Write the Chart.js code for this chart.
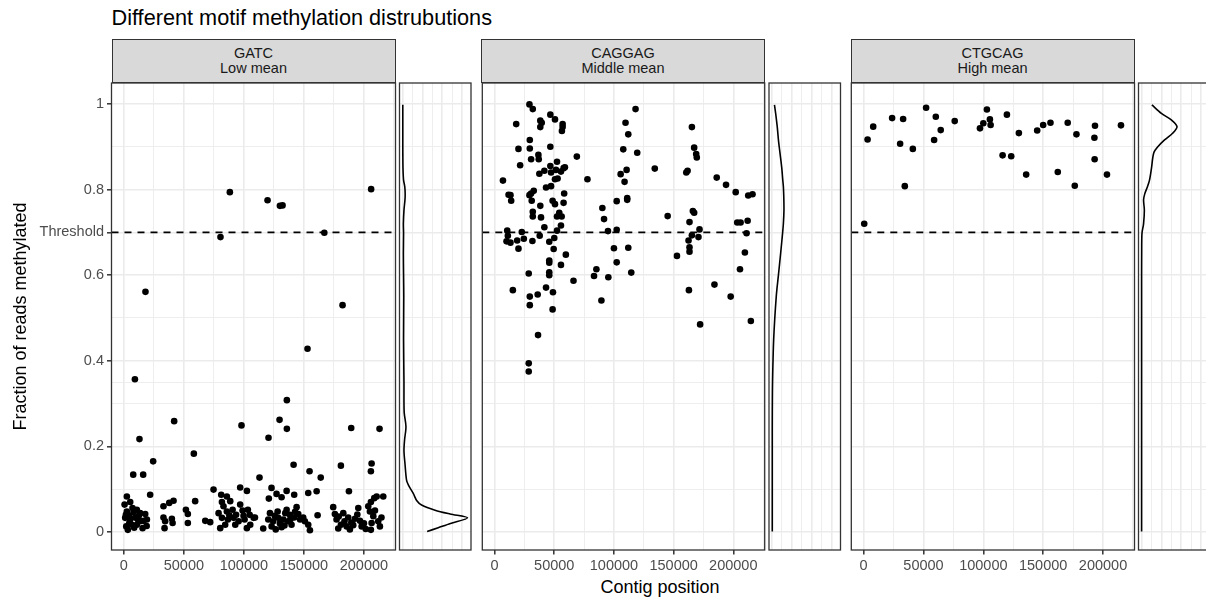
<!DOCTYPE html>
<html>
<head>
<meta charset="utf-8">
<script src="https://cdn.jsdelivr.net/npm/chart.js@4.4.1/dist/chart.umd.min.js"></script>
<style>
  html, body { margin: 0; padding: 0; background: #fff; overflow: hidden; }
  #fig { position: relative; width: 1206px; height: 600px; overflow: hidden;
         font-family: 'Liberation Sans', Arial, sans-serif; background: #fff; }
  #fig canvas { position: absolute; }
  .title { position: absolute; left: 111.5px; top: 6.6px; font-size: 21.7px; line-height: 21.7px;
           color: #000; white-space: nowrap; }
  .strip { position: absolute; top: 39px; height: 44.3px; box-sizing: border-box;
           border: 1px solid #333; background: #D9D9D9; display: flex; flex-direction: column;
           justify-content: center; align-items: center; font-size: 14.5px; line-height: 15px;
           color: #1A1A1A; white-space: nowrap; }
  .xtitle { position: absolute; left: 460px; width: 400px; top: 577.8px; text-align: center;
            font-size: 18px; line-height: 18px; color: #000; }
</style>
</head>
<body>
<div id="fig">
  <div class="title">Different motif methylation distrubutions</div>
  <div class="xtitle">Contig position</div>
</div>
<script>
// ---------------- data ----------------
const motifs = ['GATC', 'CAGGAG', 'CTGCAG'];
const meanLabels = ['Low mean', 'Middle mean', 'High mean'];
const threshold = 0.7;

// GATC: contig position (bp) and fraction of reads methylated
const gatcPos = [18000, 88300, 80500, 119700, 130000, 132200, 167000, 206000, 182200,
  9200, 153000, 135800, 13000, 41900, 98000, 129700, 120500, 135800, 189400, 213000, 58300,
  24400, 7800, 16100, 141400, 154700, 164000, 113000, 180800, 206400, 205800,
  2500, 5300, 600, 7200, 10800, 2500, 13600, 17800, 21900, 1100, 5300, 9400, 6700, 3300,
  10800, 16400, 19200, 15600, 13600, 33000, 37800, 41400, 33000, 34400, 40000, 40600, 33900,
  59400, 51700, 53300, 53300, 67800, 71900, 74700, 81100, 85800, 81700, 88600, 96900, 102500,
  78900, 85800, 90600, 96900, 98900, 103300, 81700, 86700, 91400, 95600, 100600, 80300, 84400,
  92800, 102500, 105300, 108100,
  123000, 120800, 127200, 131400, 135600, 141900, 153600, 160600, 109200, 121700, 128100,
  135600, 143900, 138300, 120300, 124400, 128600, 132800, 136900, 141900, 145300, 149400,
  150800, 116100, 123100, 131400, 139700, 155000, 153600, 161400, 187500, 174400, 175800,
  195300, 177200, 182800, 186900, 192500, 196700, 180800, 185600, 191100, 198100, 178600,
  203600, 205800, 208600, 210600, 216100, 205000, 207800, 211900, 206400, 205800, 213300,
  1700, 4200, 8000, 11500, 4500, 8600, 12500, 19000, 2000,
  83000, 93500, 99700, 87900, 104800,
  125700, 130000, 134500, 138800, 146800, 126500, 133800, 142600,
  179000, 183800, 189500, 194500, 200000, 209200, 214600, 201500, 188300];
const gatcFrac = [0.561, 0.794, 0.689, 0.775, 0.762, 0.763, 0.699, 0.801, 0.530,
  0.357, 0.428, 0.308, 0.217, 0.259, 0.249, 0.262, 0.220, 0.241, 0.243, 0.241, 0.183,
  0.165, 0.134, 0.134, 0.157, 0.142, 0.127, 0.127, 0.155, 0.160, 0.142,
  0.083, 0.070, 0.064, 0.056, 0.052, 0.048, 0.044, 0.042, 0.087, 0.033, 0.029, 0.034, 0.017, 0.005,
  0.017, 0.026, 0.029, 0.009, 0.025, 0.060, 0.068, 0.073, 0.034, 0.025, 0.031, 0.021, 0.009,
  0.072, 0.052, 0.042, 0.021, 0.026, 0.023, 0.099, 0.087, 0.083, 0.070, 0.072, 0.104, 0.096,
  0.044, 0.048, 0.052, 0.064, 0.050, 0.052, 0.033, 0.029, 0.033, 0.025, 0.029, 0.009, 0.017,
  0.017, 0.009, 0.017, 0.033,
  0.103, 0.078, 0.089, 0.081, 0.096, 0.087, 0.091, 0.095, 0.034, 0.044, 0.048,
  0.052, 0.058, 0.040, 0.029, 0.025, 0.033, 0.029, 0.025, 0.034, 0.042, 0.034,
  0.025, 0.008, 0.013, 0.011, 0.017, 0.004, 0.017, 0.039, 0.095, 0.058, 0.042,
  0.056, 0.029, 0.044, 0.034, 0.031, 0.026, 0.017, 0.013, 0.016, 0.013, 0.008,
  0.060, 0.070, 0.079, 0.083, 0.083, 0.048, 0.037, 0.025, 0.021, 0.005, 0.013,
  0.040, 0.038, 0.046, 0.030, 0.021, 0.010, 0.038, 0.014, 0.013,
  0.060, 0.040, 0.038, 0.039, 0.040,
  0.038, 0.020, 0.044, 0.030, 0.029, 0.006, 0.015, 0.047,
  0.036, 0.025, 0.022, 0.041, 0.020, 0.050, 0.034, 0.007, 0.006];

// CAGGAG
const caggagPos = [29200, 32000, 18100, 38300, 39500, 38300, 46700, 50600, 57000, 57000, 56400,
  29500, 20000, 29500, 36700, 37000, 30600, 46700, 52300, 68900, 21400, 37500, 41700, 46700,
  47300, 51400, 55600, 57800, 58900, 50600, 52800, 7000, 77800, 43100, 47300, 11700, 13300,
  13900, 29200, 30600, 32800, 31100, 38300, 48600, 50600, 58300, 57800, 32000, 32000, 38900,
  54200, 56200, 52300, 55600, 41700, 10600, 22800, 11100, 10000, 13300, 18900, 24500, 31700,
  37800, 20000, 52300, 50000, 45800, 49500, 59700, 45800, 45800, 55600, 28600, 45800, 45800,
  66100, 83300, 95300, 114500, 85300, 102300, 100000, 112000, 91700, 90300, 95000, 102300,
  102300, 105600, 108900, 110600, 111100, 111100, 107800, 119500, 112000, 109700, 118100,
  134200, 145000, 152800, 160600, 161700, 165300, 167200, 168900, 169400, 166100, 167200,
  163300, 171700, 165300, 170800, 162500, 163300, 163300, 186100, 193900, 202000, 212500,
  216100, 203300, 206100, 212000, 211100, 209700, 205600,
  15300, 29500, 29500, 36100, 43100, 48900, 48600, 89500, 36400, 28600, 28600, 162800,
  184200, 197800, 172200, 214700];
const caggagFrac = [0.999, 0.988, 0.953, 0.961, 0.956, 0.946, 0.975, 0.964, 0.953, 0.946, 0.937,
  0.916, 0.895, 0.896, 0.881, 0.871, 0.871, 0.900, 0.865, 0.877, 0.857, 0.837, 0.844, 0.855,
  0.840, 0.846, 0.842, 0.850, 0.852, 0.824, 0.826, 0.821, 0.824, 0.805, 0.808, 0.788, 0.787,
  0.774, 0.787, 0.791, 0.797, 0.774, 0.762, 0.774, 0.766, 0.791, 0.769, 0.748, 0.737, 0.735,
  0.746, 0.737, 0.737, 0.716, 0.712, 0.704, 0.701, 0.692, 0.679, 0.676, 0.681, 0.685, 0.680,
  0.692, 0.662, 0.704, 0.687, 0.678, 0.661, 0.648, 0.634, 0.629, 0.624, 0.604, 0.607, 0.600,
  0.587, 0.598, 0.595, 0.606, 0.614, 0.630, 0.663, 0.664, 0.731, 0.757, 0.703, 0.706,
  0.773, 0.836, 0.818, 0.846, 0.780, 0.776, 0.894, 0.886, 0.929, 0.956, 0.988,
  0.849, 0.738, 0.645, 0.840, 0.844, 0.946, 0.898, 0.883, 0.875, 0.750, 0.746,
  0.724, 0.707, 0.693, 0.689, 0.681, 0.665, 0.655, 0.828, 0.811, 0.794, 0.786,
  0.789, 0.723, 0.723, 0.727, 0.698, 0.653, 0.614,
  0.565, 0.550, 0.530, 0.555, 0.571, 0.560, 0.520, 0.541, 0.460, 0.394, 0.375, 0.565,
  0.578, 0.550, 0.485, 0.493];

// CTGCAG
const ctgcagPos = [500, 3300, 8000, 23800, 33000, 30500, 34400, 41100, 52200, 60300, 64400, 58900,
  76100, 97200, 100000, 103000, 105500, 106100, 119700, 116100, 123300, 129700, 135800, 145000,
  150000, 156100, 162200, 170500, 177800, 176400, 193300, 192800, 193000, 203300, 215000];
const ctgcagFrac = [0.720, 0.917, 0.947, 0.967, 0.965, 0.907, 0.808, 0.895, 0.991, 0.970, 0.939, 0.916,
  0.960, 0.943, 0.955, 0.987, 0.964, 0.951, 0.975, 0.880, 0.878, 0.932, 0.835, 0.938,
  0.951, 0.956, 0.841, 0.956, 0.929, 0.809, 0.949, 0.921, 0.871, 0.835, 0.950];

// marginal density of the methylated fraction, evaluated at these levels
const densityLevels = [0.001, 0.010, 0.020, 0.033, 0.042, 0.051, 0.063, 0.073, 0.090, 0.110, 0.121,
  0.160, 0.190, 0.215, 0.246, 0.280, 0.350, 0.450, 0.550, 0.600, 0.650, 0.698, 0.720, 0.752,
  0.776, 0.790, 0.807, 0.822, 0.850, 0.885, 0.900, 0.916, 0.932, 0.947, 0.963, 0.978, 0.998];
const gatcDensity = [6.2, 9.0, 12.1, 16.4, 12.0, 8.2, 4.8, 3.6, 2.7, 1.45, 1.0,
  0.6, 0.35, 0.5, 0.85, 0.4, 0.35, 0.25, 0.3, 0.25, 0.2, 0.25, 0.2, 0.35,
  0.6, 0.65, 0.55, 0.25, 0.1, 0.06, 0.05, 0.05, 0.05, 0.05, 0.05, 0.05, 0.05];
const caggagDensity = [0.05, 0.05, 0.05, 0.05, 0.05, 0.05, 0.05, 0.05, 0.05, 0.05, 0.05,
  0.05, 0.05, 0.05, 0.05, 0.06, 0.12, 0.4, 1.05, 1.6, 2.15, 2.65, 2.85, 3.0,
  2.97, 2.93, 2.85, 2.7, 2.45, 2.0, 1.8, 1.6, 1.45, 1.3, 1.1, 0.9, 0.6];
const ctgcagDensity = [0, 0, 0, 0, 0, 0, 0, 0, 0, 0, 0,
  0, 0, 0, 0, 0, 0, 0, 0, 0, 0.02, 0.1, 0.5, 0.7,
  0.5, 0.8, 1.5, 2.0, 2.5, 3.05, 4.1, 5.8, 7.9, 8.95, 7.5, 5.0, 2.6];

// axis breaks
const yTickValues = [0, 0.2, 0.4, 0.6, threshold, 0.8, 1];
const yTickLabels = ['0', '0.2', '0.4', '0.6', 'Threshold', '0.8', '1'];
const yMinorValues = [0.1, 0.3, 0.35, 0.5, 0.9];
const xTickValues = [0, 50000, 100000, 150000, 200000];
const xTickLabels = ['0', '50000', '100000', '150000', '200000'];
const xMinorValues = [25000, 75000, 125000, 175000, 225000];
const dTickValues = [0, 5, 10, 15];
const dMinorValues = [2.5, 7.5, 12.5];

// ---------------- layout ----------------
const X_RANGE = [-10300, 226300];
const Y_RANGE = [-0.0421, 1.049];
const D_RANGE = [-0.78, 17.28];
const PANEL_TOP = 83, PANEL_BOTTOM = 550;
const SCATTER_LEFT = [111.5, 481, 850.5];
const SCATTER_W = 284, DENS_GAP = 4, DENS_W = 71.5;
const X_AXIS_H = 50;
const MARGIN_TOP = 20;

const FONT = "'Liberation Sans', Arial, sans-serif";
Chart.defaults.font.family = FONT;
const GRID = '#EBEBEB', INK = '#333333', TICKTXT = '#4D4D4D';

const fig = document.getElementById('fig');

const panelBox = {
  id: 'panelBox',
  afterDatasetsDraw(chart) {
    const a = chart.chartArea, ctx = chart.ctx;
    ctx.save();
    ctx.strokeStyle = INK;
    ctx.lineWidth = 1.3;
    ctx.strokeRect(a.left, a.top, a.right - a.left, a.bottom - a.top);
    ctx.restore();
  }
};

function addCanvas(left, top, w, h) {
  const c = document.createElement('canvas');
  c.width = w; c.height = h;
  c.style.left = left + 'px'; c.style.top = top + 'px';
  c.style.width = w + 'px'; c.style.height = h + 'px';
  fig.appendChild(c);
  return c;
}

function gridScale(major, minor) {
  const all = major.concat(minor).sort((a, b) => a - b);
  const isMajor = v => major.includes(v);
  return { all, isMajor };
}

function yScale(showLabels, axisW) {
  const g = gridScale(yTickValues, yMinorValues);
  return {
    type: 'linear', min: Y_RANGE[0], max: Y_RANGE[1],
    afterBuildTicks: s => { s.ticks = g.all.map(v => ({ value: v })); },
    afterFit: s => { s.width = axisW; },
    border: { display: false },
    grid: {
      color: GRID,
      lineWidth: c => (c.tick && g.isMajor(c.tick.value)) ? 1.6 : 0.85,
      drawTicks: showLabels, tickLength: 4.5, tickWidth: 1.5,
      tickColor: c => (c.tick && g.isMajor(c.tick.value)) ? INK : 'rgba(0,0,0,0)'
    },
    ticks: {
      display: showLabels, autoSkip: false, padding: 3, color: TICKTXT,
      font: { size: 14.5 },
      callback: v => { const k = yTickValues.indexOf(v); return k >= 0 ? yTickLabels[k] : ''; }
    },
    title: {
      display: showLabels, text: 'Fraction of reads methylated', color: '#000',
      font: { size: 18 }, padding: { top: 10.5, bottom: 0 }
    }
  };
}

function scatterPanel(i, pos, frac) {
  const L = SCATTER_LEFT[i], R = L + SCATTER_W;
  const axisW = i === 0 ? L : 0;
  const cl = i === 0 ? 0 : Math.floor(L) - 2;
  const ct = PANEL_TOP - MARGIN_TOP;
  const cw = Math.ceil(R) + 3 - cl;
  const ch = 600 - ct;
  const canvas = addCanvas(cl, ct, cw, ch);
  const gx = gridScale(xTickValues, xMinorValues);
  const pts = pos.map((p, k) => ({ x: p, y: frac[k] }));
  new Chart(canvas, {
    type: 'scatter',
    data: {
      datasets: [
        { type: 'line', data: [{ x: X_RANGE[0], y: threshold }, { x: X_RANGE[1], y: threshold }],
          borderColor: '#000', borderWidth: 1.6, borderDash: [7, 6], pointRadius: 0, fill: false },
        { data: pts, backgroundColor: '#000', borderWidth: 0, pointRadius: 3.3, pointHoverRadius: 3.3 }
      ]
    },
    options: {
      responsive: false, animation: false, devicePixelRatio: 1,
      events: [],
      layout: { padding: { left: L - axisW - cl, right: cl + cw - R, top: PANEL_TOP - ct, bottom: 0 } },
      plugins: { legend: { display: false }, tooltip: { enabled: false }, title: { display: false } },
      scales: {
        x: {
          type: 'linear', min: X_RANGE[0], max: X_RANGE[1],
          afterBuildTicks: s => { s.ticks = gx.all.map(v => ({ value: v })); },
          afterFit: s => { s.height = X_AXIS_H; },
          border: { display: false },
          grid: {
            color: GRID,
            lineWidth: c => (c.tick && gx.isMajor(c.tick.value)) ? 1.6 : 0.85,
            drawTicks: true, tickLength: 4.5, tickWidth: 1.5,
            tickColor: c => (c.tick && gx.isMajor(c.tick.value)) ? INK : 'rgba(0,0,0,0)'
          },
          ticks: {
            autoSkip: false, maxRotation: 0, padding: 3, color: TICKTXT, font: { size: 14.5 },
            callback: v => { const k = xTickValues.indexOf(v); return k >= 0 ? xTickLabels[k] : ''; }
          }
        },
        y: yScale(i === 0, axisW)
      }
    },
    plugins: [panelBox]
  });
}

function densityPanel(i, dens) {
  const L = SCATTER_LEFT[i] + SCATTER_W + DENS_GAP, R = L + DENS_W;
  const cl = Math.floor(L) - 2;
  const ct = PANEL_TOP - MARGIN_TOP;
  const cw = Math.ceil(R) + 3 - cl;
  const ch = PANEL_BOTTOM - ct + 5;
  const canvas = addCanvas(cl, ct, cw, ch);
  const gd = gridScale(dTickValues, dMinorValues);
  const pts = densityLevels.map((v, k) => ({ x: dens[k], y: v }));
  new Chart(canvas, {
    type: 'line',
    data: { datasets: [{ data: pts, borderColor: '#000', borderWidth: 1.6, pointRadius: 0,
                         tension: 0.3, fill: false }] },
    options: {
      responsive: false, animation: false, devicePixelRatio: 1, events: [],
      layout: { padding: { left: L - cl, right: cl + cw - R, top: PANEL_TOP - ct, bottom: ch - (PANEL_BOTTOM - ct) } },
      plugins: { legend: { display: false }, tooltip: { enabled: false } },
      scales: {
        x: {
          type: 'linear', min: D_RANGE[0], max: D_RANGE[1],
          afterBuildTicks: s => { s.ticks = gd.all.map(v => ({ value: v })); },
          afterFit: s => { s.height = 0; },
          border: { display: false },
          grid: { color: GRID, drawTicks: false,
                  lineWidth: c => (c.tick && gd.isMajor(c.tick.value)) ? 1.6 : 0.85 },
          ticks: { display: false }
        },
        y: yScale(false, 0)
      }
    },
    plugins: [panelBox]
  });
}

// facet strips
motifs.forEach((m, i) => {
  const s = document.createElement('div');
  s.className = 'strip';
  s.style.left = SCATTER_LEFT[i] + 'px';
  s.style.width = SCATTER_W + 'px';
  const a = document.createElement('div'); a.textContent = m;
  const b = document.createElement('div'); b.textContent = meanLabels[i];
  s.appendChild(a); s.appendChild(b);
  fig.appendChild(s);
});

scatterPanel(0, gatcPos, gatcFrac);
scatterPanel(1, caggagPos, caggagFrac);
scatterPanel(2, ctgcagPos, ctgcagFrac);
densityPanel(0, gatcDensity);
densityPanel(1, caggagDensity);
densityPanel(2, ctgcagDensity);
</script>
</body>
</html>
